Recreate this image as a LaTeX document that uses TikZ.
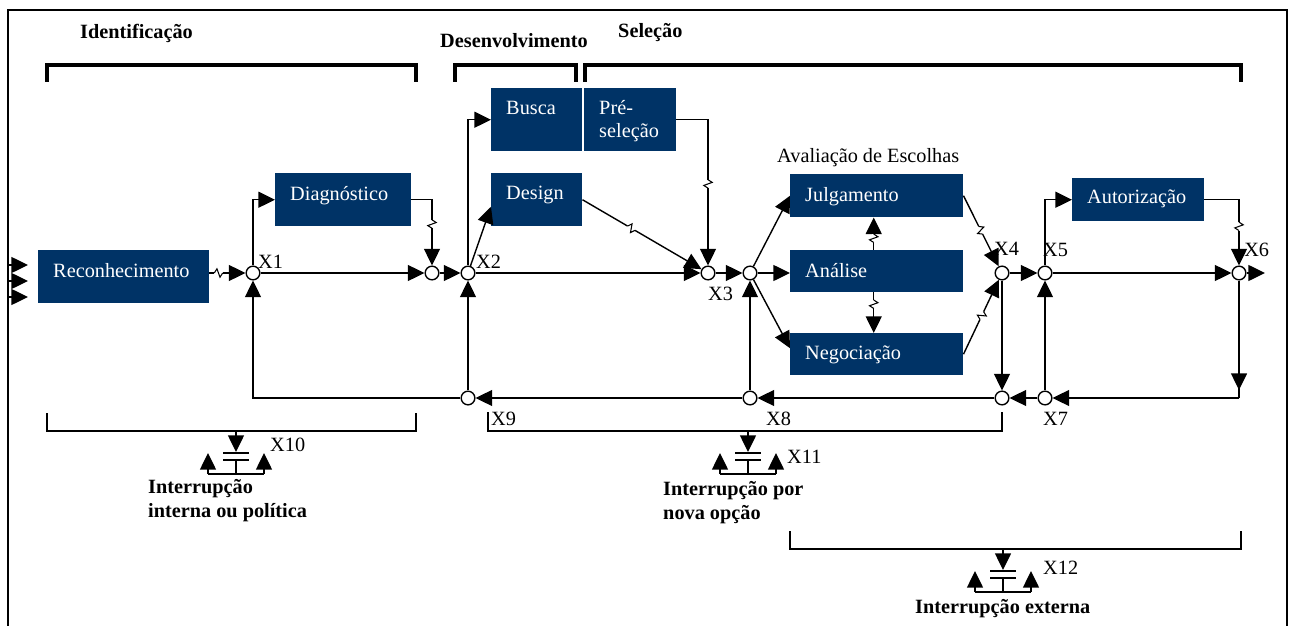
\documentclass[tikz,border=0pt]{standalone}
\usepackage{fontspec}
\setmainfont{Liberation Serif}
\usetikzlibrary{arrows.meta,calc,decorations.markings}
\definecolor{navy}{HTML}{003366}
\begin{document}
\begin{tikzpicture}[x=0.3mm,y=-0.3mm,
  font=\fontsize{17.3pt}{20pt}\selectfont,
  wire/.style={line width=1.2pt},
  arr/.style={wire,-{Triangle[length=5mm,width=4.8mm]}},
  blk/.style={fill=navy,text=white,anchor=north west,inner xsep=4.5mm,inner ysep=0pt,
    align=flush left,text height=12pt,text depth=#1},
  bsize/.style n args={2}{minimum width=#1*0.3mm,minimum height=#2*0.3mm,text width=(#1-30)*0.3mm},
  jn/.style={circle,draw,fill=white,line width=1.2pt,minimum size=4.1mm,inner sep=0pt},
  lab/.style={anchor=base west,inner sep=0pt},
  hdr/.style={anchor=base west,inner sep=0pt,font=\fontsize{17.3pt}{20pt}\selectfont\bfseries},
  notetxt/.style={anchor=base west,inner sep=0pt,text width=70mm,align=flush left,
    font=\fontsize{17.3pt}{20.5pt}\selectfont\bfseries},
  frm/.style={line width=2.3pt},
  topbr/.style={line width=2.8pt,line join=miter},
  lowbr/.style={line width=1.2pt,line join=miter},
  brk/.style={postaction={decorate,decoration={markings,mark=at position #1 with {
      \fill[white] (-3.6pt,-1.1pt) rectangle (3.6pt,1.1pt);
      \draw[-,line width=0.9pt,line join=miter] (-3.6pt,0) -- (-1.3pt,3.6pt) -- (1.3pt,-3.6pt) -- (3.6pt,0);}}}},
  intr/.pic={
    \draw[arr] (0,0) -- (0,21);
    \draw[line width=1.5pt] (-13,22) -- (13,22) (-13,29) -- (13,29);
    \draw[wire] (0,29) -- (0,43) (-28,43) -- (28,43);
    \draw[arr] (-28,43) -- (-28,22);
    \draw[arr] (28,43) -- (28,22);
  }
]
\useasboundingbox (0,0) rectangle (1292,626);
\draw[frm] (8,626) -- (8,10) -- (1287,10) -- (1287,626);

% phase headings and their brackets
\node[hdr] (hid) at (80,39) {Identificação};
\node[hdr] (hdev) at (440,48) {Desenvolvimento};
\node[hdr] (hsel) at (618,38) {Seleção};
\draw[topbr] (47,82) |- (416,65) -- (416,82);
\draw[topbr] (455,82) |- (576,65) -- (576,82);
\draw[topbr] (585,82) |- (1241,65) -- (1241,82);

% routines
\node[blk=11.15pt,bsize={171}{53}] (reco) at (38,250) {Reconhecimento};
\node[blk=11.15pt,bsize={136}{53}] (diag) at (275,173) {Diagnóstico};
\node[blk=21.4pt,bsize={91}{63}] (busca) at (491,88) {Busca};
\node[blk=21.4pt,bsize={92}{63}] (pre) at (584,88) {Pré-\\seleção};
\node[blk=12.3pt,bsize={91}{53}] (design) at (491,173) {Design};
\node[blk=2.6pt,bsize={173}{43}] (julg) at (790,174) {Julgamento};
\node[blk=1.8pt,bsize={173}{42}] (ana) at (790,250) {Análise};
\node[blk=3.5pt,bsize={173}{42}] (neg) at (790,333) {Negociação};
\node[blk=6pt,bsize={132}{43}] (aut) at (1072,178) {Autorização};
\node[lab] (aval) at (777,163) {Avaliação de Escolhas};

% junctions
\node[jn] (x1) at (253,273) {};
\node[jn] (m) at (432,273) {};
\node[jn] (x2) at (468,273) {};
\node[jn] (x3) at (708,273) {};
\node[jn] (x3b) at (750,273) {};
\node[jn] (x4) at (1002,273) {};
\node[jn] (x5) at (1045,273) {};
\node[jn] (x6) at (1239,273) {};
\node[jn] (x7) at (1045,398) {};
\node[jn] (x4b) at (1002,398) {};
\node[jn] (x8) at (750,398) {};
\node[jn] (x9) at (468,398) {};

% junction labels
\node[lab] (l1) at (258,269) {X1};
\node[lab] (l2) at (476,268) {X2};
\node[lab] (l3) at (708,300) {X3};
\node[lab] (l4) at (994,256) {X4};
\node[lab] (l5) at (1043,257) {X5};
\node[lab] (l6) at (1244,257) {X6};
\node[lab] (l7) at (1043,425) {X7};
\node[lab] (l8) at (766,425) {X8};
\node[lab] (l9) at (491,425) {X9};
\node[lab] (l10) at (270,451) {X10};
\node[lab] (l11) at (787,463) {X11};
\node[lab] (l12) at (1043,574) {X12};

% incoming stimuli
\foreach \yy/\nm in {265/inA,281/inB,297/inC}{
  \coordinate (\nm) at (8,\yy);
  \draw[arr] (\nm) -- ++(20,0);
}

% main flow
\draw[arr,brk=0.25] (reco.east |- x1) -- (x1);
\draw[arr] (x1) |- (diag.west);
\draw[arr] (x1) -- (m);
\draw[arr,brk=0.52] (diag.east) -| (m);
\draw[arr] (m) -- (x2);
\draw[arr] (x2) |- (busca.west);
\draw[arr] (x2) -- ($(design.west)+(0,7)$);
\draw[arr] (x2) -- (x3);
\draw[arr,brk=0.41] (design.east) -- (x3);
\draw[arr,brk=0.54] (pre.east) -| (x3);
\draw[arr] (x3) -- (x3b);
\draw[arr] (x3b) -- (julg.west);
\draw[arr] (x3b) -- (x3b -| ana.west);
\draw[arr] (x3b) -- ($(neg.west)+(0,-6)$);
\draw[arr,brk=0.36] ($(ana.north)+(-3,0)$) -- ($(julg.south)+(-3,0)$);
\draw[arr,brk=0.29] ($(ana.south)+(-3,0)$) -- ($(neg.north)+(-3,0)$);
\draw[arr,brk=0.49] (julg.east) -- (x4);
\draw[arr,brk=0.52] (neg.east) -- (x4);
\draw[arr] (x4) -- (x5);
\draw[arr] (x5) |- (aut.west);
\draw[arr] (x5) -- (x6);
\draw[arr,brk=0.61] (aut.east) -| (x6);
\coordinate (outR) at (1265,273);
\draw[arr] (x6) -- (outR);

% recycling loops
\coordinate (c6) at (x6 |- x7);
\draw[wire] (x6) -- (c6);
\draw[arr] (x6) -- ($(c6)+(0,-8)$);
\draw[arr] (c6) -- (x7);
\draw[arr] (x4) -- (x4b);
\draw[arr] (x7) -- (x5);
\draw[arr] (x7) -- (x4b);
\draw[arr] (x4b) -- (x8);
\draw[arr] (x8) -- (x3b);
\draw[arr] (x8) -- (x9);
\draw[arr] (x9) -- (x2);
\draw[arr] (x9) -| (x1);

% interruptions
\draw[lowbr] (47,413) |- (416,431) -- (416,413);
\draw[lowbr] (488,412) |- (1002,431) -- (1002,412);
\draw[lowbr] (790,531) |- (1241,549) -- (1241,531);
\pic at (236,431) {intr};
\pic at (748,431) {intr};
\pic at (1003,549) {intr};
\node[notetxt] (t10) at (148,493) {Interrupção\\interna ou política};
\node[notetxt] (t11) at (663,495) {Interrupção por\\nova opção};
\node[notetxt] (t12) at (915,613) {Interrupção externa};
\end{tikzpicture}
\end{document}
